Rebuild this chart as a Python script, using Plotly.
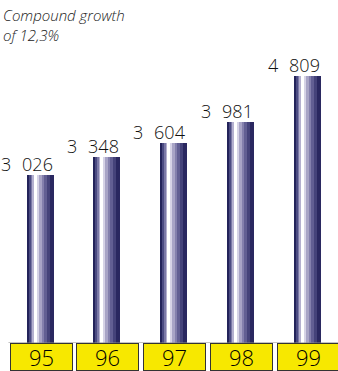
import plotly.graph_objects as go

# Net sales by year (five-year series)
years = ["95", "96", "97", "98", "99"]
values = [3026, 3348, 3604, 3981, 4809]
subtitle = "Compound growth<br>of 12,3%"

# Vertical stripes that give each column its rounded, metallic look (left -> right)
stripe_colors = ["#23235a", "#4b4b82", "#7a78a6", "#b4b0cf", "#ffffff", "#d6d3e6",
                 "#a8a4c6", "#8480ad", "#625f93", "#45437a", "#2a2860"]
stripe_px = [2, 2, 2, 1, 3, 2, 3, 2, 3, 3, 4]

PX_PER_UNIT = 66.75          # horizontal pixels per category
BAR_PX = sum(stripe_px)
x = list(range(len(years)))

fig = go.Figure()
start = -BAR_PX / 2
for color, w in zip(stripe_colors, stripe_px):
    fig.add_trace(go.Bar(
        x=x, y=values,
        width=[w / PX_PER_UNIT] * len(x),
        offset=[start / PX_PER_UNIT] * len(x),
        marker=dict(color=color, line=dict(width=0)),
        hoverinfo="skip", showlegend=False,
    ))
    start += w

annotations = []
# value labels, right-aligned with each column's right edge (wide thousands gap)
for xi, v in zip(x, values):
    annotations.append(dict(
        x=xi, y=v, xref="x", yref="y",
        text=f"{v:,}".replace(",", "\u2002\u200a"),
        xanchor="right", yanchor="bottom",
        xshift=BAR_PX / 2 + 1, yshift=-3,
        showarrow=False,
        font=dict(family="Open Sans", size=18, color="#111111", weight=300),
    ))
# year labels in yellow boxes under the columns
for xi, yr in zip(x, years):
    annotations.append(dict(
        x=xi, y=0, xref="x", yref="y",
        text=yr, xanchor="center", yanchor="top",
        xshift=1,
        width=61, height=26, borderpad=0, borderwidth=1,
        bgcolor="#f7e800", bordercolor="#333333",
        showarrow=False,
        font=dict(family="Open Sans", size=22, color="#000000", weight=300),
    ))
annotations.append(dict(
    x=0, y=1, xref="paper", yref="paper",
    xanchor="left", yanchor="top", xshift=1, yshift=-3,
    text=f"<i>{subtitle}</i>", align="left", showarrow=False,
    font=dict(family="Open Sans", size=15, color="#222222", weight=300),
))

left_unit = -40 / PX_PER_UNIT
fig.update_layout(
    width=338, height=371,
    margin=dict(l=0, r=0, t=0, b=28),
    paper_bgcolor="white", plot_bgcolor="white",
    barmode="overlay", bargap=0,
    xaxis=dict(range=[left_unit, left_unit + 338 / PX_PER_UNIT], visible=False),
    yaxis=dict(range=[0, 343 / 0.0555], visible=False),
    annotations=annotations,
    shapes=[dict(type="line", xref="paper", yref="y", x0=0.025, x1=1, y0=0, y1=0,
                 line=dict(color="#888888", width=1))],
)

fig.write_html("out.html")
